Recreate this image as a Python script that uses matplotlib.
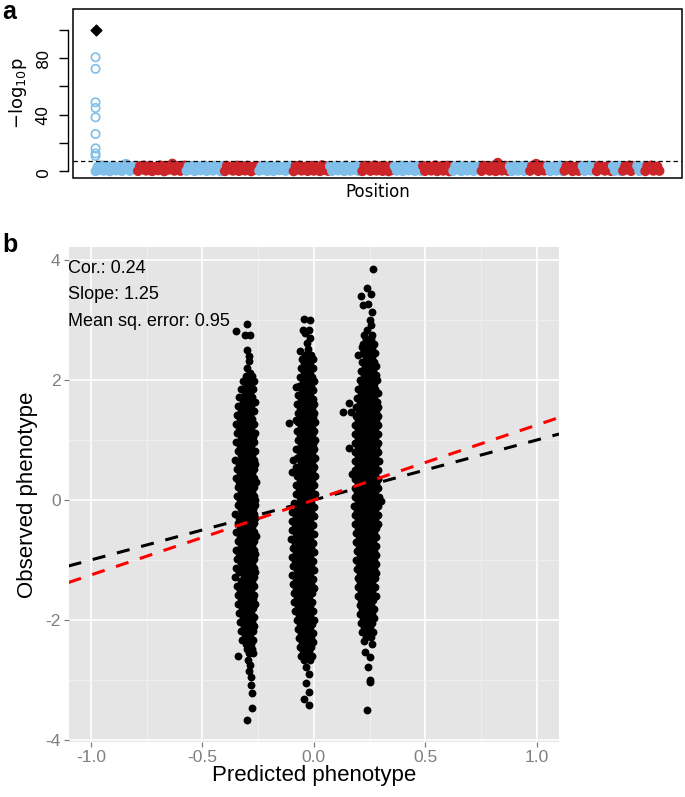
import numpy as np
import matplotlib
matplotlib.use('Agg')
import matplotlib.pyplot as plt
from matplotlib.patches import Rectangle

# ---------------- Panel a data (Manhattan plot, -log10 p per SNP) ----------------
chr1 = [0.2, 3.4, 1.1, 4.3, 0.5, 2.6, 3.9, 0.1, 1.8, 4.1, 0.7, 3.0, 2.2, 0.3, 4.4, 5.4, 1.4, 0.4, 3.6, 2.0, 4.0]
chr2 = [0.3, 3.8, 1.5, 4.2, 0.6, 2.9, 4.0, 0.2, 1.9, 3.5, 0.8, 4.3, 2.4, 0.1, 3.7, 1.2, 4.1, 5.5, 0.5, 2.7, 3.9, 0.4, 1.6, 4.2]
chr3 = [0.4, 3.6, 1.3, 4.0, 0.2, 2.5, 3.8, 0.7, 1.9, 4.2, 0.3, 3.1, 2.2, 0.5, 4.1, 1.4, 3.5, 0.1, 3.9]
chr4 = [0.2, 4.0, 1.6, 3.3, 0.5, 2.8, 4.2, 0.3, 1.7, 3.7, 0.6, 4.1, 2.3, 0.1, 3.4, 1.2, 3.9]
chr5 = [0.5, 3.5, 1.2, 4.1, 0.3, 2.6, 3.9, 0.2, 2.0, 4.3, 0.8, 3.2, 1.5, 0.4, 4.0, 2.4, 3.6]
chr6 = [0.1, 3.9, 1.4, 4.2, 0.6, 2.7, 3.5, 0.3, 1.8, 4.0, 0.5, 3.3, 2.1, 0.2, 4.4, 1.1, 3.7, 0.4]
chr7 = [3.8, 0.3, 2.5, 4.1, 0.7, 1.6, 3.6, 0.2, 4.2, 2.2, 0.5, 3.4, 1.3, 4.0, 0.4, 3.1]
chr8 = [0.2, 4.1, 1.7, 3.5, 0.4, 2.8, 4.3, 0.6, 1.5, 3.8, 0.3, 4.0, 2.3, 0.1, 3.6, 1.0]
chr9 = [3.7, 0.5, 2.4, 4.2, 0.2, 1.9, 3.5, 0.7, 4.1, 2.6, 0.3, 3.9, 1.2, 0.4]
chr10 = [4.0, 0.3, 2.1, 3.6, 0.6, 1.7, 4.3, 0.2, 2.9, 3.8, 0.5, 1.4, 4.1, 0.1, 3.3]
chr11 = [0.4, 3.9, 1.5, 4.2, 0.2, 2.6, 3.7, 0.6, 1.9, 4.0, 0.3, 3.2, 2.3, 3.8]
chr12 = [0.3, 4.1, 1.8, 3.5, 0.5, 2.7, 4.2, 0.2, 6.1, 3.9, 0.6, 1.3, 4.0, 0.4]
chr13 = [3.6, 0.2, 2.4, 4.1, 0.5, 1.7, 3.9, 0.3, 4.2, 1.1]
chr14 = [0.4, 3.8, 2.0, 5.4, 0.3, 1.6, 4.1, 0.6, 3.5]
chr15 = [4.0, 0.2, 2.5, 3.7, 0.5, 1.4, 4.2, 0.3]
chr16 = [0.5, 3.9, 1.8, 4.1, 0.2, 2.7, 3.6, 0.4, 4.0]
chr17 = [3.8, 0.3, 2.2, 4.2, 0.6, 1.5, 3.7]
chr18 = [0.2, 4.0, 1.6, 3.5, 0.5, 2.9, 4.1, 0.3]
chr19 = [3.9, 0.4, 2.3, 4.1, 0.2]
chr20 = [0.5, 3.7, 1.4, 4.2, 0.3, 2.6, 3.8]
chr21 = [4.0, 0.3, 2.1, 3.6]
chr22 = [0.2, 3.9, 1.7, 4.2, 0.5, 2.8, 3.5, 0.4]
chromosomes = [chr1, chr2, chr3, chr4, chr5, chr6, chr7, chr8, chr9, chr10, chr11,
               chr12, chr13, chr14, chr15, chr16, chr17, chr18, chr19, chr20, chr21, chr22]
top_hits = [80.6, 72.4, 48.8, 44.8, 38.2, 26.4, 16.3, 12.7, 10.9]   # chr1, first SNP position
causal_hit = 100.0
threshold = 7.5
manh_yticks = [0, 20, 40, 60, 80, 100]
manh_yticklabels = ['0', '', '40', '', '80', '']

# ---------------- Panel b data (observed vs predicted) ----------------
# rows: (observed, predicted, predicted, ...)
group1 = [
    (2.94, -0.300), (2.82, -0.350), (2.75, -0.310, -0.285), (2.50, -0.300), (2.40, -0.292),
    (2.31, -0.290), (2.20, -0.300), (2.12, -0.285), (2.06, -0.305, -0.278),
    (1.99, -0.318, -0.292, -0.27), (1.92, -0.305, -0.28), (1.85, -0.325, -0.298, -0.272),
    (1.78, -0.31, -0.285), (1.71, -0.335, -0.302, -0.276), (1.64, -0.318, -0.29, -0.265),
    (1.56, -0.34, -0.31, -0.283), (1.49, -0.325, -0.297, -0.27), (1.42, -0.345, -0.312, -0.286),
    (1.35, -0.33, -0.303, -0.277), (1.27, -0.35, -0.318, -0.29, -0.266), (1.20, -0.335, -0.306, -0.28),
    (1.12, -0.344, -0.316, -0.29, -0.264), (1.05, -0.328, -0.3, -0.274),
    (0.97, -0.347, -0.319, -0.292, -0.268), (0.90, -0.333, -0.307, -0.281),
    (0.82, -0.34, -0.313, -0.287, -0.263), (0.75, -0.326, -0.3, -0.275),
    (0.67, -0.352, -0.322, -0.295, -0.27), (0.60, -0.336, -0.309, -0.283, -0.262),
    (0.52, -0.343, -0.316, -0.29, -0.267), (0.45, -0.329, -0.303, -0.277),
    (0.37, -0.348, -0.32, -0.294, -0.269), (0.30, -0.334, -0.308, -0.282, -0.26),
    (0.22, -0.341, -0.315, -0.289, -0.266), (0.15, -0.327, -0.301, -0.275),
    (0.07, -0.346, -0.319, -0.293, -0.268), (0.00, -0.333, -0.306, -0.28, -0.262),
    (-0.08, -0.34, -0.313, -0.287, -0.265), (-0.15, -0.326, -0.3, -0.274),
    (-0.23, -0.352, -0.321, -0.295, -0.27), (-0.30, -0.335, -0.309, -0.283, -0.262),
    (-0.38, -0.342, -0.316, -0.29, -0.267), (-0.45, -0.329, -0.302, -0.277),
    (-0.53, -0.347, -0.32, -0.294, -0.268), (-0.60, -0.333, -0.307, -0.281, -0.261),
    (-0.68, -0.34, -0.314, -0.288, -0.266), (-0.75, -0.326, -0.3, -0.275),
    (-0.83, -0.35, -0.32, -0.293, -0.269), (-0.90, -0.336, -0.309, -0.283, -0.263),
    (-0.98, -0.343, -0.316, -0.29, -0.267), (-1.05, -0.328, -0.302, -0.276),
    (-1.13, -0.347, -0.32, -0.294, -0.27), (-1.20, -0.334, -0.308, -0.282, -0.264),
    (-1.28, -0.355, -0.315, -0.289, -0.267), (-1.35, -0.327, -0.301, -0.275),
    (-1.43, -0.345, -0.319, -0.293, -0.27), (-1.50, -0.333, -0.306, -0.28),
    (-1.58, -0.341, -0.313, -0.287, -0.266), (-1.65, -0.325, -0.299, -0.273),
    (-1.73, -0.338, -0.31, -0.284, -0.265), (-1.80, -0.322, -0.296, -0.272),
    (-1.88, -0.336, -0.307, -0.28), (-1.95, -0.318, -0.292, -0.27),
    (-2.03, -0.33, -0.303, -0.277), (-2.10, -0.315, -0.289, -0.268),
    (-2.18, -0.325, -0.298, -0.274), (-2.25, -0.31, -0.284), (-2.33, -0.32, -0.294, -0.272),
    (-2.40, -0.305, -0.28), (-2.48, -0.298, -0.276), (-2.55, -0.29, -0.272),
    (-2.60, -0.340), (-2.66, -0.295), (-2.75, -0.285), (-2.85, -0.29), (-2.95, -0.28),
    (-3.08, -0.282), (-3.21, -0.278), (-3.46, -0.275), (-3.66, -0.300),
]
group2 = [
    (3.02, -0.045), (3.00, -0.015), (2.83, -0.05, -0.02), (2.78, -0.04), (2.70, -0.018),
    (2.61, -0.03), (2.48, -0.06), (2.52, -0.025),
    (2.42, -0.04, -0.012), (2.35, -0.055, -0.028, -0.005), (2.28, -0.042, -0.015),
    (2.20, -0.058, -0.031, -0.004), (2.13, -0.046, -0.019), (2.05, -0.062, -0.035, -0.008),
    (1.98, -0.05, -0.022, 0.0), (1.90, -0.066, -0.038, -0.012), (1.89, -0.08),
    (1.83, -0.052, -0.026, -0.002), (1.75, -0.07, -0.043, -0.016), (1.68, -0.058, -0.031, -0.005),
    (1.60, -0.074, -0.046, -0.019, 0.002), (1.53, -0.06, -0.033, -0.008),
    (1.45, -0.072, -0.044, -0.017, 0.003), (1.38, -0.056, -0.029, -0.004),
    (1.33, -0.08), (1.28, -0.11), (1.30, -0.07, -0.042, -0.015, 0.004), (1.23, -0.058, -0.03, -0.006),
    (1.15, -0.075, -0.047, -0.02, 0.002), (1.08, -0.061, -0.034, -0.008),
    (1.00, -0.072, -0.044, -0.017, 0.004), (0.93, -0.057, -0.03, -0.005),
    (0.85, -0.078, -0.048, -0.021, 0.002), (0.78, -0.063, -0.036, -0.01),
    (0.70, -0.074, -0.045, -0.018, 0.004), (0.67, -0.095), (0.63, -0.059, -0.032, -0.006),
    (0.55, -0.08, -0.05, -0.022, 0.002), (0.47, -0.1), (0.48, -0.065, -0.037, -0.01),
    (0.40, -0.077, -0.047, -0.019, 0.004), (0.33, -0.06, -0.032, -0.006),
    (0.25, -0.082, -0.051, -0.023, 0.002), (0.18, -0.066, -0.038, -0.011),
    (0.10, -0.079, -0.048, -0.02, 0.004), (0.03, -0.062, -0.034, -0.007),
    (-0.05, -0.09, -0.064, -0.038, -0.012), (-0.12, -0.077, -0.051, -0.025, 0.002),
    (-0.20, -0.096, -0.068, -0.041, -0.014), (-0.27, -0.082, -0.055, -0.028, 0.0),
    (-0.35, -0.1, -0.071, -0.044, -0.017), (-0.42, -0.085, -0.058, -0.031, -0.004),
    (-0.50, -0.097, -0.069, -0.042, -0.015), (-0.57, -0.08, -0.053, -0.027, 0.002),
    (-0.65, -0.102, -0.073, -0.046, -0.018), (-0.72, -0.086, -0.059, -0.032, -0.005),
    (-0.80, -0.095, -0.067, -0.04, -0.013), (-0.87, -0.079, -0.052, -0.026, 0.003),
    (-0.95, -0.1, -0.071, -0.044, -0.017), (-1.02, -0.084, -0.057, -0.03, -0.004),
    (-1.10, -0.093, -0.066, -0.039, -0.012), (-1.17, -0.077, -0.05, -0.024, 0.002),
    (-1.25, -0.098, -0.069, -0.042, -0.015), (-1.32, -0.082, -0.055, -0.028, -0.002),
    (-1.40, -0.094, -0.066, -0.039, -0.012), (-1.47, -0.078, -0.051, -0.025, 0.003),
    (-1.55, -0.09, -0.062, -0.035, -0.009), (-1.62, -0.075, -0.048, -0.021),
    (-1.70, -0.087, -0.059, -0.032, -0.006), (-1.77, -0.071, -0.044, -0.018),
    (-1.85, -0.083, -0.055, -0.029, -0.004), (-1.92, -0.068, -0.041, -0.015),
    (-2.00, -0.075, -0.048, -0.022, 0.0), (-2.07, -0.06, -0.034, -0.009),
    (-2.15, -0.07, -0.044, -0.018), (-2.22, -0.056, -0.03, -0.005),
    (-2.30, -0.066, -0.04, -0.014), (-2.37, -0.052, -0.026, -0.002),
    (-2.45, -0.062, -0.036, -0.011), (-2.52, -0.048, -0.022),
    (-2.60, -0.056, -0.031, -0.008), (-2.67, -0.042, -0.017),
    (-2.78, -0.035), (-2.90, -0.02), (-3.05, -0.035), (-3.20, -0.02), (-3.31, -0.045), (-3.42, -0.02),
]
group3 = [
    (3.85, 0.266), (3.54, 0.24), (3.43, 0.255), (3.40, 0.21), (3.26, 0.245), (3.25, 0.22),
    (3.14, 0.26), (3.00, 0.25), (2.92, 0.255), (2.83, 0.24), (2.75, 0.225, 0.26),
    (2.55, 0.215), (2.42, 0.20), (1.61, 0.16), (1.46, 0.13, 0.165), (0.86, 0.16), (0.44, 0.17),
    (2.68, 0.232, 0.258), (2.60, 0.22, 0.246, 0.27), (2.53, 0.235, 0.262),
    (2.45, 0.222, 0.248, 0.274), (2.38, 0.236, 0.263), (2.30, 0.218, 0.244, 0.27),
    (2.23, 0.23, 0.256, 0.279), (2.15, 0.212, 0.238, 0.265), (2.08, 0.225, 0.251, 0.277),
    (2.00, 0.205, 0.231, 0.257, 0.282), (1.93, 0.218, 0.244, 0.27),
    (1.85, 0.198, 0.224, 0.25, 0.276), (1.78, 0.211, 0.237, 0.263, 0.288),
    (1.70, 0.193, 0.219, 0.245, 0.271), (1.63, 0.206, 0.232, 0.258, 0.284),
    (1.55, 0.19, 0.216, 0.242, 0.268, 0.29), (1.48, 0.201, 0.227, 0.253, 0.279),
    (1.40, 0.187, 0.213, 0.239, 0.265, 0.289), (1.33, 0.2, 0.226, 0.252, 0.278),
    (1.25, 0.185, 0.211, 0.237, 0.263, 0.287), (1.18, 0.197, 0.223, 0.249, 0.275),
    (1.10, 0.184, 0.21, 0.236, 0.262, 0.288), (1.03, 0.196, 0.222, 0.248, 0.274),
    (0.95, 0.186, 0.212, 0.238, 0.264, 0.29), (0.88, 0.199, 0.225, 0.251, 0.277),
    (0.80, 0.183, 0.209, 0.235, 0.261, 0.287), (0.73, 0.196, 0.222, 0.248, 0.274),
    (0.65, 0.185, 0.211, 0.237, 0.263, 0.291), (0.58, 0.198, 0.224, 0.25, 0.276),
    (0.50, 0.184, 0.21, 0.236, 0.262, 0.288), (0.43, 0.197, 0.223, 0.249, 0.275),
    (0.35, 0.186, 0.212, 0.238, 0.264, 0.29), (0.28, 0.199, 0.225, 0.251, 0.277),
    (0.20, 0.183, 0.209, 0.235, 0.261, 0.289), (0.13, 0.195, 0.221, 0.247, 0.273),
    (0.05, 0.185, 0.211, 0.237, 0.263, 0.292), (-0.02, 0.198, 0.224, 0.25, 0.276, 0.3),
    (-0.10, 0.182, 0.208, 0.234, 0.26, 0.286), (-0.17, 0.195, 0.221, 0.247, 0.273),
    (-0.25, 0.184, 0.21, 0.236, 0.262, 0.288), (-0.32, 0.197, 0.223, 0.249, 0.275),
    (-0.40, 0.186, 0.212, 0.238, 0.264, 0.289), (-0.47, 0.199, 0.225, 0.251, 0.277),
    (-0.55, 0.19, 0.216, 0.242, 0.268), (-0.62, 0.203, 0.229, 0.255, 0.28),
    (-0.70, 0.188, 0.214, 0.24, 0.266), (-0.77, 0.201, 0.227, 0.253, 0.279),
    (-0.85, 0.192, 0.218, 0.244, 0.27), (-0.92, 0.205, 0.231, 0.257, 0.281),
    (-1.00, 0.19, 0.216, 0.242, 0.268), (-1.07, 0.203, 0.229, 0.255, 0.278),
    (-1.15, 0.194, 0.22, 0.246, 0.272), (-1.22, 0.207, 0.233, 0.259, 0.28),
    (-1.30, 0.196, 0.222, 0.248, 0.274), (-1.37, 0.209, 0.235, 0.261),
    (-1.45, 0.198, 0.224, 0.25, 0.276), (-1.52, 0.211, 0.237, 0.263),
    (-1.60, 0.2, 0.226, 0.252, 0.277), (-1.67, 0.213, 0.239, 0.265),
    (-1.75, 0.205, 0.231, 0.257), (-1.82, 0.218, 0.244, 0.27), (-1.90, 0.208, 0.234, 0.26),
    (-1.97, 0.221, 0.247, 0.268), (-2.05, 0.212, 0.238, 0.263), (-2.12, 0.225, 0.25),
    (-2.20, 0.216, 0.242, 0.265),
    (-2.28, 0.232, 0.256), (-2.35, 0.225), (-2.40, 0.26), (-2.53, 0.23), (-2.61, 0.25),
    (-2.79, 0.245), (-3.00, 0.25), (-3.04, 0.25), (-3.50, 0.24),
]
identity_intercept, identity_slope = 0.0, 1.0
fit_intercept, fit_slope = 0.0, 1.25
stats_text = ['Cor.: 0.24', 'Slope: 1.25', 'Mean sq. error: 0.95']
xticks_b = [-1.0, -0.5, 0.0, 0.5, 1.0]
xticklabels_b = ['-1.0', '-0.5', '0.0', '0.5', '1.0']
yticks_b = [-4, -2, 0, 2, 4]
yticklabels_b = ['-4', '-2', '0', '2', '4']

# ---------------- figure ----------------
W, H = 685, 797
fig = plt.figure(figsize=(W / 100, H / 100), dpi=100)

def rect(l, t, r, b):
    return [l / W, 1 - b / H, (r - l) / W, (b - t) / H]

BLUE = '#7FBFEA'
RED = '#CC2529'

# ---- panel a ----
axA = fig.add_axes(rect(73, 9.3, 682, 177.7))
xs, ys, cs = [], [], []
start = 0
for i, vals in enumerate(chromosomes):
    idx = np.arange(start, start + len(vals))
    xs.extend(idx)
    ys.extend(vals)
    cs.extend([BLUE if i % 2 == 0 else RED] * len(vals))
    start += len(vals)
n = start
axA.scatter(xs, ys, s=36, facecolors=cs, edgecolors=cs, linewidths=1.2, zorder=2)
axA.scatter([0] * len(top_hits), top_hits, s=36, facecolors='none', edgecolors=BLUE,
            linewidths=1.2, zorder=3)
axA.scatter([0], [causal_hit], marker='D', s=30, color='black', zorder=4)
axA.axhline(threshold, color='black', lw=0.9, ls=(0, (3.5, 2.5)), zorder=5)
axA.set_xlim(-0.04 * (n - 1), (n - 1) * 1.04)
axA.set_ylim(-4.4, 114.4)
for s in ['top', 'right', 'bottom']:
    axA.spines[s].set_visible(False)
axA.spines['left'].set_position(('outward', 3.6))
axA.spines['left'].set_bounds(0, 100)
axA.spines['left'].set_linewidth(1.0)
axA.add_patch(Rectangle((0, 0), 1, 1, transform=axA.transAxes, fill=False,
                        lw=1.1, edgecolor='black', clip_on=False, zorder=6))
axA.set_xticks([])
axA.set_yticks(manh_yticks)
axA.set_yticklabels(manh_yticklabels, rotation=90, va='center', fontsize=11.5,
                    family='DejaVu Sans')
axA.tick_params(axis='y', length=6.5, width=1.0, pad=6)
fig.text(18 / W, 1 - 93 / H, '\u2212log$_{10}$p', ha='center', va='center', rotation=90,
         fontsize=13, family='DejaVu Sans')
fig.text(377.5 / W, 1 - 192 / H, 'Position', ha='center', va='center', fontsize=12,
         family='DejaVu Sans')

# ---- panel b ----
axB = fig.add_axes(rect(68.5, 246.8, 559.1, 742.4))
axB.set_facecolor('#E5E5E5')
axB.set_xlim(-1.1, 1.1)
axB.set_ylim(-4.04, 4.22)
axB.set_xticks(xticks_b)
axB.set_xticklabels(xticklabels_b)
axB.set_yticks(yticks_b)
axB.set_yticklabels(yticklabels_b)
axB.set_xticks([-0.75, -0.25, 0.25, 0.75], minor=True)
axB.set_yticks([-3, -1, 1, 3], minor=True)
axB.grid(which='major', color='white', lw=1.2)
axB.grid(which='minor', color='#F2F2F2', lw=0.6)
axB.set_axisbelow(True)
for s in axB.spines.values():
    s.set_visible(False)
axB.tick_params(which='minor', length=0)
axB.tick_params(which='major', length=3.6, width=0.9, color='#7F7F7F',
                labelcolor='#7F7F7F', labelsize=12.5, pad=2)
for lab in axB.get_xticklabels() + axB.get_yticklabels():
    lab.set_family('Liberation Sans')

for grp in (group1, group2, group3):
    px, py = [], []
    for row in grp:
        for xv in row[1:]:
            px.append(xv)
            py.append(row[0])
    axB.scatter(px, py, s=32, color='black', linewidths=0, zorder=3)

xl = np.array(axB.get_xlim())
axB.plot(xl, identity_intercept + identity_slope * xl, color='black', lw=2.2,
         dashes=(4.3, 3.9), zorder=4, dash_capstyle='butt')
axB.plot(xl, fit_intercept + fit_slope * xl, color='#FF0000', lw=2.2,
         dashes=(4.3, 3.9), zorder=5, dash_capstyle='butt')

for txt, yv in zip(stats_text, [3.78, 3.345, 2.9]):
    axB.text(-1.1, yv, txt, ha='left', va='baseline', fontsize=13,
             family='Liberation Sans', color='black', zorder=6)

fig.text(313.8 / W, 1 - 776 / H, 'Predicted phenotype', ha='center', va='center',
         fontsize=16, family='Liberation Sans')
fig.text(28 / W, 1 - 494.6 / H, 'Observed phenotype', ha='center', va='center',
         rotation=90, fontsize=16, family='Liberation Sans')

fig.text(2 / W, 1 - 19 / H, 'a', ha='left', va='baseline', fontsize=18,
         fontweight='bold', family='Liberation Sans')
fig.text(2 / W, 1 - 252 / H, 'b', ha='left', va='baseline', fontsize=18,
         fontweight='bold', family='Liberation Sans')

fig.savefig('out.png', dpi=100)
